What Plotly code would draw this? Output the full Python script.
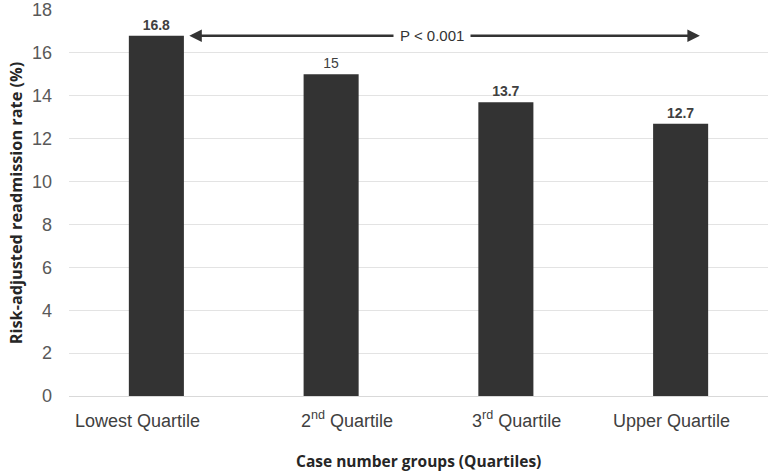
import plotly.graph_objects as go

categories = ["Lowest Quartile", "2<sup>nd</sup> Quartile", "3<sup>rd</sup> Quartile", "Upper Quartile"]
values = [16.8, 15, 13.7, 12.7]
value_labels = ["<b>16.8</b>", "15", "<b>13.7</b>", "<b>12.7</b>"]
p_text = "P < 0.001"
x_title = "<b>Case number groups (Quartiles)</b>"
y_title = "<b>Risk-adjusted readmission rate (%)</b>"

fig = go.Figure()
fig.add_trace(go.Bar(
    x=list(range(len(categories))), y=values,
    marker=dict(color="#333333", line=dict(width=0)),
    width=0.315,
    text=value_labels, textposition="outside",
    textfont=dict(family="Liberation Sans, Arial", size=14, color="#404040"),
    cliponaxis=False,
))

# double-headed arrow spanning groups
fig.add_annotation(x=3.11, y=values[0], ax=0.18, ay=values[0], xref="x", yref="y",
                   axref="x", ayref="y", text="", showarrow=True,
                   arrowhead=2, arrowside="end+start", arrowsize=1, arrowwidth=2.5,
                   arrowcolor="#333333")
fig.add_annotation(x=1.58, y=values[0], xref="x", yref="y", text=p_text, showarrow=False,
                   bgcolor="white", borderpad=6,
                   font=dict(family="Liberation Sans, Arial", size=15, color="#333333"))

# category labels (slightly offset from the bars, as in the original)
label_shift = [-0.11, 0.09, 0.06, -0.05]
for i, cat in enumerate(categories):
    fig.add_annotation(x=i + label_shift[i], y=0, xref="x", yref="y",
                       yanchor="bottom", yshift=-37,
                       text=cat, showarrow=False,
                       font=dict(family="Liberation Sans, Arial", size=18, color="#404040"))

fig.add_annotation(x=0.5, y=0, xref="paper", yref="paper", yanchor="middle", yshift=-65,
                   text=x_title, showarrow=False,
                   font=dict(family="Open Sans, DejaVu Sans", size=15.5, color="#262626"))

fig.update_layout(
    width=774, height=473,
    margin=dict(l=69, r=6, t=10, b=77),
    plot_bgcolor="white", paper_bgcolor="white",
    showlegend=False,
)
fig.update_xaxes(
    tickvals=[], range=[-0.5, 3.5], showgrid=False, showline=True,
    linecolor="#d9d9d9", linewidth=1, ticks="", automargin=False,
)
fig.update_yaxes(
    range=[0, 18], dtick=2, showgrid=True, gridcolor="#e3e3e3", gridwidth=1,
    zeroline=False, showline=False, ticks="", automargin=False,
    ticklabelstandoff=16,
    tickfont=dict(family="Liberation Sans, Arial", size=18, color="#595959"),
    title=dict(text=y_title,
               font=dict(family="Open Sans, DejaVu Sans", size=16.3, color="#262626"),
               standoff=5),
)

fig.write_html("out.html", config={"displayModeBar": False},
               post_script="document.body.style.margin='0';")
